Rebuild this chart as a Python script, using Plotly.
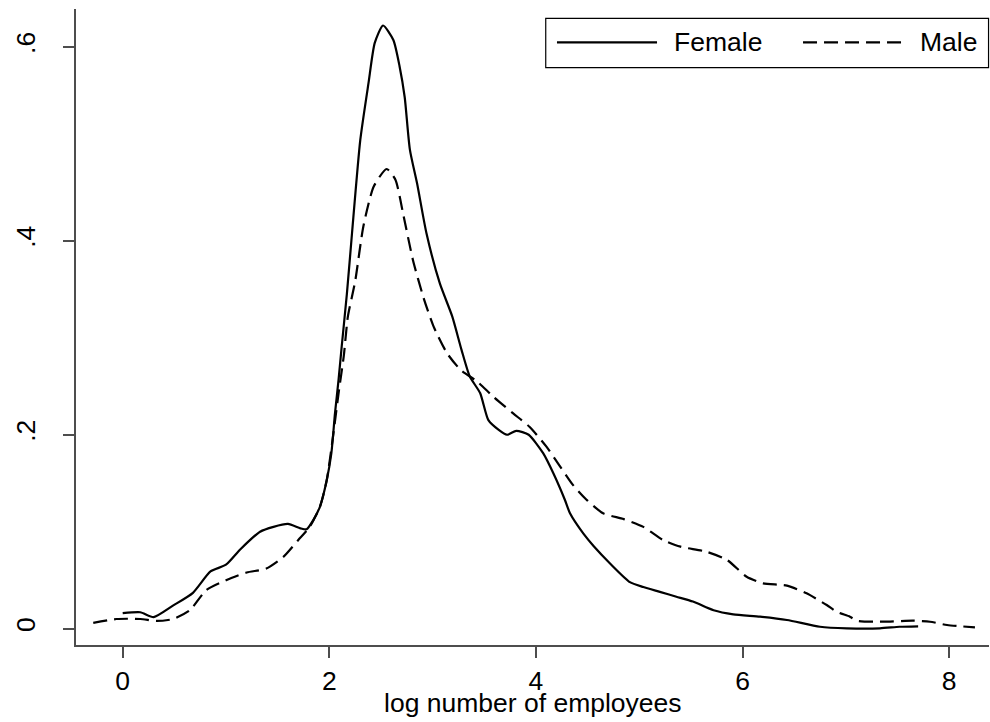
import plotly.graph_objects as go

# Female kernel density (log number of employees)
female_x = [0.00, 0.17, 0.30, 0.49, 0.68, 0.85, 1.00, 1.14, 1.33, 1.46, 1.60, 1.72, 1.78,
            1.845, 1.91, 1.975, 2.02, 2.055, 2.09, 2.12, 2.17, 2.22, 2.30, 2.38, 2.44, 2.52,
            2.62, 2.68, 2.73, 2.78, 2.85, 2.94, 3.07, 3.19, 3.28, 3.36, 3.46, 3.54, 3.64,
            3.72, 3.81, 3.93, 4.07, 4.17, 4.28, 4.33, 4.46, 4.56, 4.72, 4.91, 5.04, 5.20,
            5.36, 5.52, 5.72, 5.91, 6.17, 6.43, 6.75, 7.01, 7.33, 7.52, 7.70]
female_y = [0.016, 0.017, 0.012, 0.024, 0.037, 0.059, 0.066, 0.082, 0.100, 0.105, 0.108, 0.1035, 0.1025,
            0.112, 0.126, 0.153, 0.181, 0.222, 0.257, 0.291, 0.345, 0.408, 0.504, 0.563, 0.604, 0.622,
            0.607, 0.580, 0.548, 0.494, 0.459, 0.408, 0.356, 0.322, 0.2875, 0.260, 0.243, 0.215, 0.205,
            0.200, 0.204, 0.200, 0.181, 0.160, 0.133, 0.119, 0.098, 0.085, 0.067, 0.048, 0.043, 0.038,
            0.033, 0.028, 0.019, 0.0148, 0.0124, 0.009, 0.002, 0.0004, 0.0004, 0.002, 0.0025]

# Male kernel density
male_x = [-0.285, -0.06, 0.17, 0.33, 0.49, 0.65, 0.81, 1.00, 1.20, 1.39, 1.555, 1.70, 1.81,
          1.91, 1.975, 2.04, 2.09, 2.14, 2.18, 2.25, 2.33, 2.43, 2.555, 2.64, 2.72, 2.81,
          2.91, 3.01, 3.14, 3.27, 3.43, 3.59, 3.78, 3.94, 4.10, 4.23, 4.36, 4.49, 4.65,
          4.85, 5.04, 5.23, 5.40, 5.65, 5.85, 6.04, 6.20, 6.43, 6.62, 6.815, 6.91, 7.04,
          7.105, 7.36, 7.65, 7.815, 7.98, 8.25]
male_y = [0.006, 0.010, 0.010, 0.008, 0.010, 0.019, 0.040, 0.050, 0.058, 0.062, 0.074, 0.0915, 0.105,
          0.126, 0.153, 0.2015, 0.243, 0.281, 0.322, 0.358, 0.415, 0.456, 0.474, 0.463, 0.425, 0.380,
          0.342, 0.3115, 0.284, 0.267, 0.255, 0.239, 0.222, 0.208, 0.188, 0.168, 0.148, 0.133, 0.119,
          0.113, 0.105, 0.0915, 0.0846, 0.0794, 0.0709, 0.0536, 0.0468, 0.0444, 0.0365, 0.0244, 0.0175, 0.0124,
          0.0083, 0.0072, 0.0083, 0.0072, 0.0038, 0.0014]

x_ticks = [0, 2, 4, 6, 8]
x_tick_labels = ["0", "2", "4", "6", "8"]
y_ticks = [0, 0.2, 0.4, 0.6]
y_tick_labels = ["0", ".2", ".4", ".6"]
series_names = ["Female", "Male"]
x_title = "log number of employees"

FONT = "Liberation Sans, Arial, Helvetica, sans-serif"
FS = 26.5
DASH = "14px,7px"
AXIS_COLOR = "#4d4d4d"

fig = go.Figure()
fig.add_trace(go.Scatter(x=female_x, y=female_y, mode="lines", name=series_names[0],
                         line=dict(color="black", width=2.2, shape="spline", smoothing=0.6),
                         showlegend=False))
fig.add_trace(go.Scatter(x=male_x, y=male_y, mode="lines", name=series_names[1],
                         line=dict(color="black", width=2.2, dash=DASH, shape="spline", smoothing=0.6),
                         showlegend=False))

# Manual legend (Stata style, wide samples)
fig.add_shape(type="rect", xref="paper", yref="paper", x0=0.5145, x1=0.9995, y0=0.9077, y1=0.9854,
              line=dict(color="black", width=1.2), fillcolor="white")
fig.add_shape(type="line", xref="paper", yref="paper", x0=0.5268, x1=0.6364, y0=0.9476, y1=0.9476,
              line=dict(color="black", width=2.2))
fig.add_shape(type="line", xref="paper", yref="paper", x0=0.7963, x1=0.9058, y0=0.9476, y1=0.9476,
              line=dict(color="black", width=2.2, dash=DASH))
fig.add_annotation(xref="paper", yref="paper", x=0.653, y=0.9476, text=series_names[0],
                   showarrow=False, xanchor="left", yanchor="middle",
                   font=dict(family=FONT, size=FS, color="black"))
fig.add_annotation(xref="paper", yref="paper", x=0.9225, y=0.9476, text=series_names[1],
                   showarrow=False, xanchor="left", yanchor="middle",
                   font=dict(family=FONT, size=FS, color="black"))
# x-axis title
fig.add_annotation(xref="paper", yref="paper", x=0.5, y=-0.0915, text=x_title,
                   showarrow=False, xanchor="center", yanchor="middle",
                   font=dict(family=FONT, size=FS, color="black"))

fig.update_layout(
    width=990, height=722,
    margin=dict(l=76, r=1, t=9, b=77),
    paper_bgcolor="white", plot_bgcolor="white",
    font=dict(family=FONT, size=FS, color="black"),
    xaxis=dict(range=[-0.452, 8.386], tickvals=x_ticks, ticktext=x_tick_labels,
               showgrid=False, zeroline=False, showline=True, linecolor=AXIS_COLOR, linewidth=1.5,
               ticks="outside", ticklen=11, tickwidth=1.5, tickcolor=AXIS_COLOR,
               tickfont=dict(family=FONT, size=FS, color="black")),
    yaxis=dict(range=[-0.0168, 0.639], tickvals=y_ticks, ticktext=y_tick_labels,
               showgrid=False, zeroline=False, showline=True, linecolor=AXIS_COLOR, linewidth=1.5,
               ticks="outside", ticklen=11, tickwidth=1.5, tickcolor=AXIS_COLOR, tickangle=-90,
               ticklabelstandoff=18,
               tickfont=dict(family=FONT, size=FS, color="black")),
)

fig.write_html("out.html")
